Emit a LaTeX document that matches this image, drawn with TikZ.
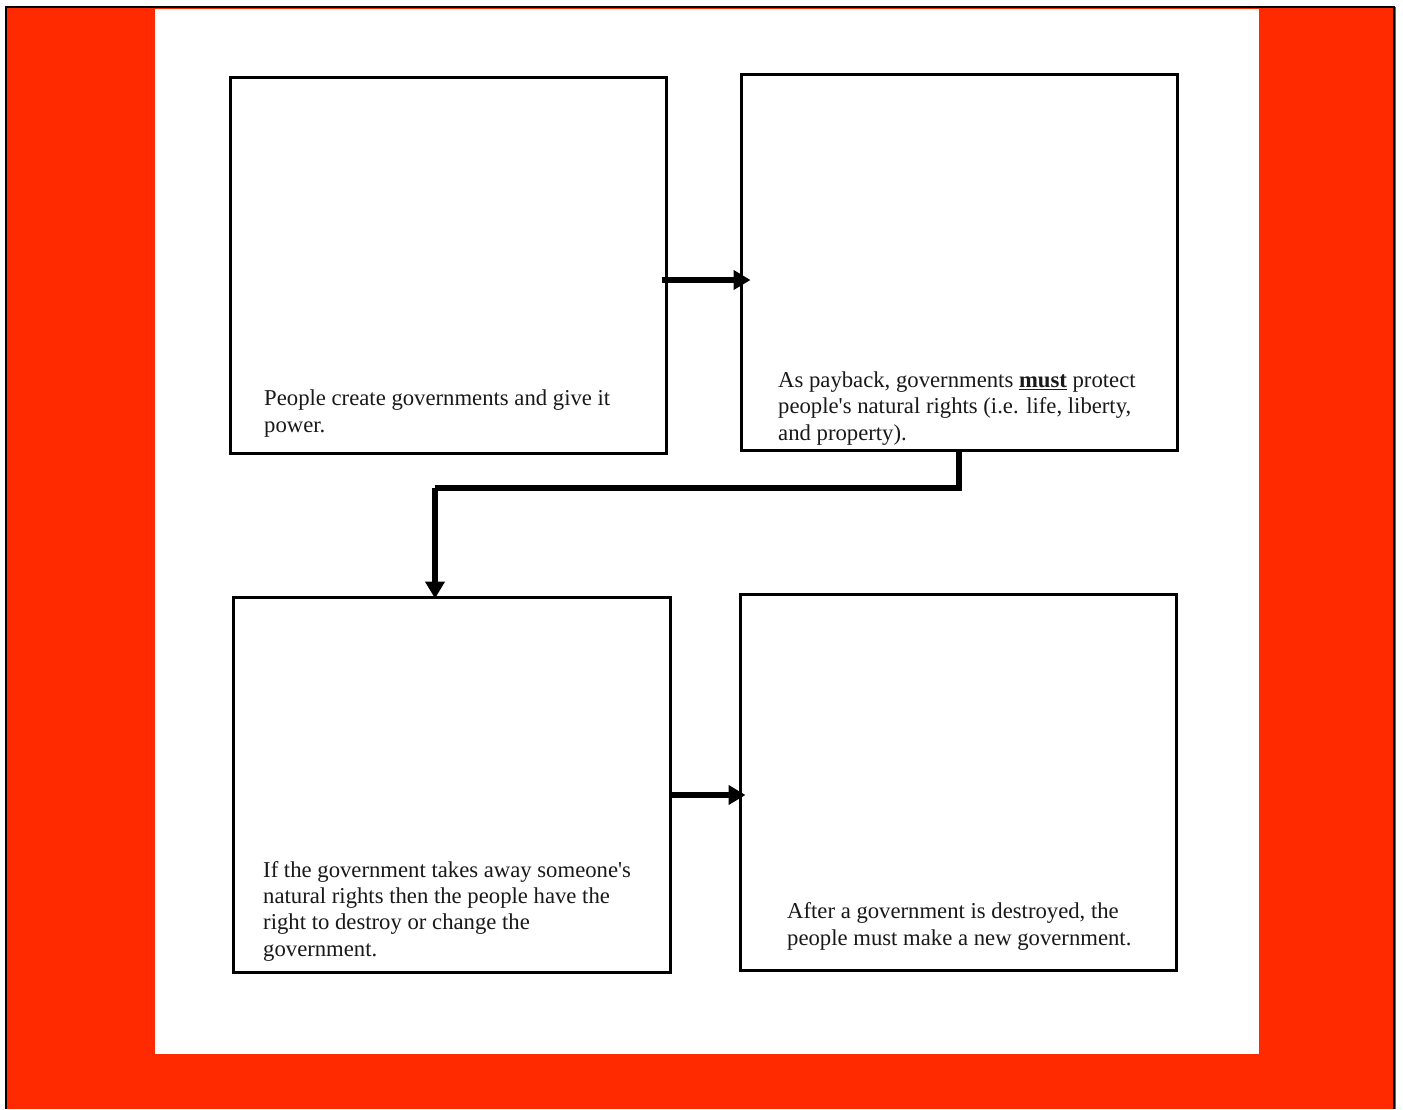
\documentclass[tikz,border=0pt]{standalone}
\usepackage{fontspec}
\setmainfont{Liberation Serif}
\usetikzlibrary{arrows.meta}
\definecolor{bgred}{RGB}{255,42,0}
\definecolor{txt}{RGB}{25,25,25}
\begin{document}
\begin{tikzpicture}[x=1pt,y=-1pt,
  panel/.style={draw=black, line width=3pt, fill=white, minimum width=436pt, minimum height=376pt, inner sep=0pt},
  label/.style={anchor=base west, inner sep=0pt, align=left, text=txt, font=\fontsize{22.7}{26.3}\selectfont},
  arr/.style={line width=5.5pt, -{Triangle[length=17pt, width=19pt]}},
  conn/.style={line width=5.5pt}]
\useasboundingbox (0,0) rectangle (1403,1109);
% background
\fill[bgred] (6,7) rectangle (1396,1109);
\draw[black, line width=2.5pt] (6,1109) -- (6,7) -- (1394,7) -- (1394,1109);
\fill[white] (155,9) rectangle (1259,1054);
% panels
\node[panel] (b1) at (448,265) {};
\node[panel] (b2) at (959,262.5) {};
\node[panel, minimum width=437pt, minimum height=375pt] (b3) at (451.5,784.5) {};
\node[panel] (b4) at (958,782) {};
% texts (anchor = baseline of last line)
\node[label] (t1) at (264,432) {People create governments and give it\\power.};
\node[label] (t2) at (778,440) {As payback, governments \underline{\textbf{must}} protect\\people\textquotesingle s natural rights (i.e. life, liberty,\\and property).};
\node[label] (t3) at (263,956) {If the government takes away someone\textquotesingle s\\natural rights then the people have the\\right to destroy or change the\\government.};
\node[label] (t4) at (787,945) {After a government is destroyed, the\\people must make a new government.};
% connectors
\coordinate (a1) at (0,280);
\coordinate (a3) at (0,795);
\coordinate (turn) at (435,488);
\draw[arr] ([xshift=-6pt]b1.east |- a1) -- ([xshift=11pt]b2.west |- a1);
\draw[conn] (b2.south) |- (turn);
\draw[arr] (turn) -- ([yshift=-3pt]turn |- b3.north);
\draw[arr] ([xshift=-2pt]b3.east |- a3) -- ([xshift=7pt]b4.west |- a3);
\end{tikzpicture}
\end{document}
